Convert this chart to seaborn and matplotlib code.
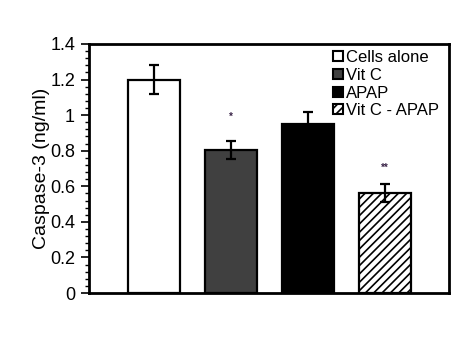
import matplotlib
matplotlib.use("Agg")
import matplotlib.pyplot as plt
import seaborn as sns
import pandas as pd
from matplotlib.patches import Patch
from matplotlib.ticker import MultipleLocator

groups = ["Cells alone", "Vit C", "APAP", "Vit C - APAP"]
values = [1.20, 0.805, 0.95, 0.562]
errors = [0.08, 0.05, 0.065, 0.05]
stars = ["", "*", "", "**"]
star_heights = [0, 0.99, 0, 0.705]
colors = ["#ffffff", "#404040", "#000000", "#ffffff"]
hatches = ["", "", "", "////"]

sns.set_style("white")
plt.rcParams["font.family"] = ["Liberation Sans", "DejaVu Sans"]
plt.rcParams["hatch.color"] = "#333333"
plt.rcParams["hatch.linewidth"] = 1.2
plt.rcParams["text.color"] = "black"
plt.rcParams["axes.labelcolor"] = "black"
plt.rcParams["ytick.color"] = "black"

df = pd.DataFrame({"group": groups, "value": values})

fig = plt.figure(figsize=(4.65, 3.53), dpi=100)
ax = fig.add_axes([89/465, 1-293/353, 360/465, 249/353])

sns.barplot(data=df, x="group", y="value", hue="group", palette=colors,
            width=0.675, edgecolor="black", linewidth=1.6, legend=False, ax=ax,
            errorbar=None)
for p, h in zip(ax.patches, hatches):
    p.set_hatch(h)

ax.errorbar(range(len(groups)), values, yerr=errors, fmt="none",
            ecolor="black", elinewidth=1.6, capsize=3.5, capthick=1.6)

for i, (s, sh) in enumerate(zip(stars, star_heights)):
    if s:
        ax.text(i, sh, s, ha="center", va="center", fontsize=7,
                color="#3a2448", fontweight="bold")

ax.set_xlim(-0.84, 3.83)
ax.set_ylim(0, 1.4)
ax.yaxis.set_minor_locator(MultipleLocator(0.04))
ax.set_yticks([0, 0.2, 0.4, 0.6, 0.8, 1.0, 1.2, 1.4])
ax.set_yticklabels(["0", "0.2", "0.4", "0.6", "0.8", "1", "1.2", "1.4"])
ax.set_xticks([])
ax.set_xlabel("")
ax.set_ylabel("Caspase-3 (ng/ml)", fontsize=14, color="black")
ax.yaxis.set_label_coords(-0.108, 0.5)
ax.tick_params(axis="y", which="major", direction="out", length=6, width=1.2,
               labelsize=13, left=True, pad=4, colors="black")
ax.tick_params(axis="y", which="minor", direction="out", length=3, width=1,
               left=True, colors="black")
for sp in ax.spines.values():
    sp.set_visible(True)
    sp.set_linewidth(2)
    sp.set_color("black")

handles = [Patch(facecolor=c, edgecolor="black", hatch=h, linewidth=1.5)
           for c, h in zip(colors, hatches)]
leg = ax.legend(handles, groups, loc="upper right", frameon=False, fontsize=12,
                handlelength=0.55, handleheight=0.55, handletextpad=0.2,
                labelspacing=0.17, borderaxespad=0.1,
                bbox_to_anchor=(0.995, 1.01))
for t in leg.get_texts():
    t.set_color("black")

fig.savefig("out.png", dpi=100)
